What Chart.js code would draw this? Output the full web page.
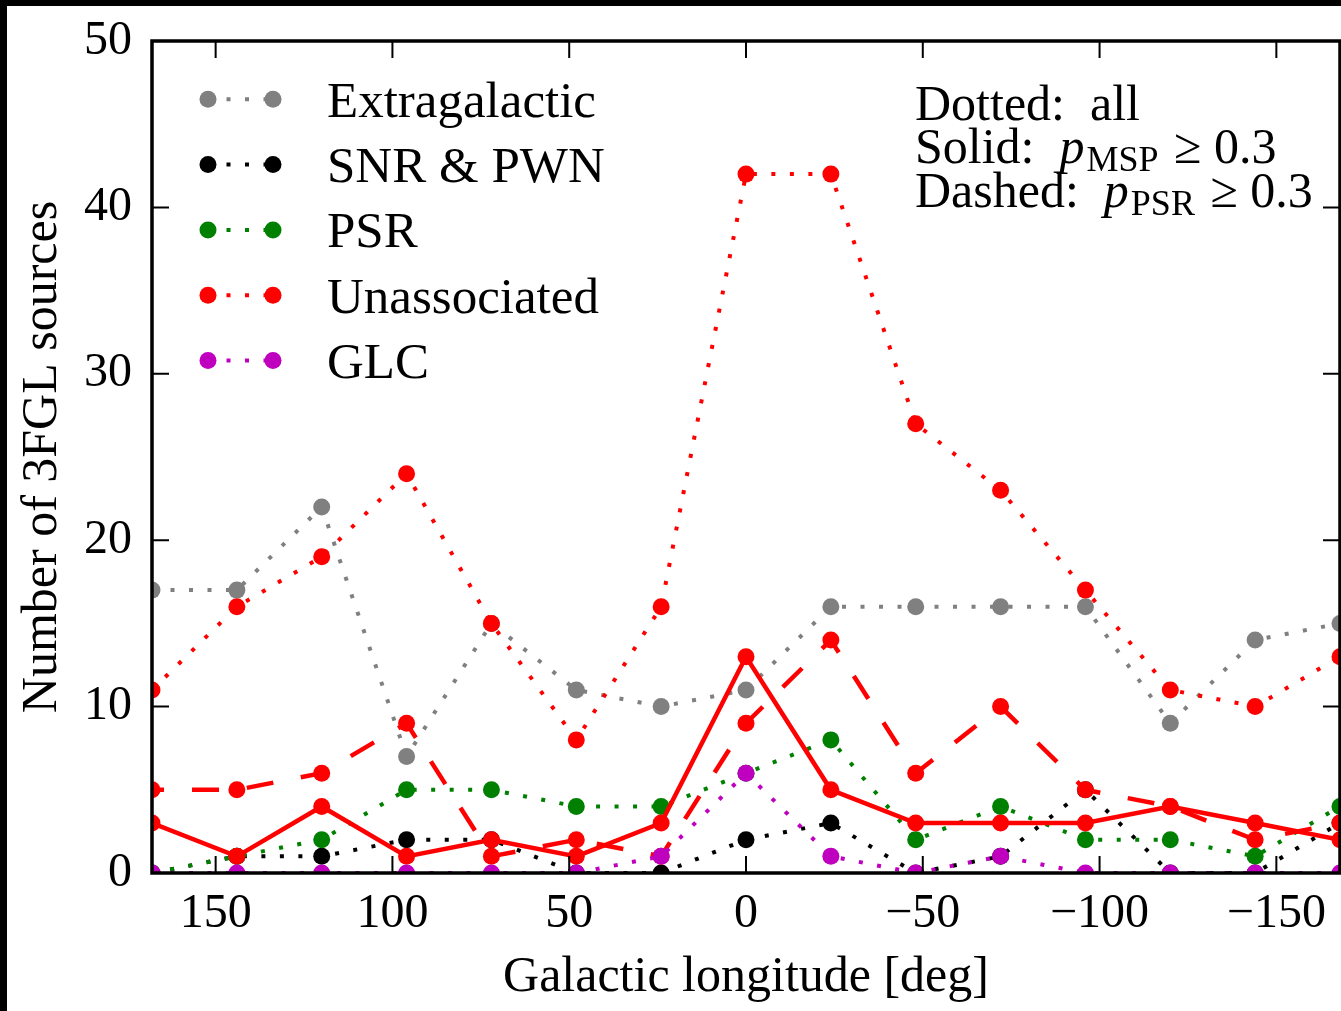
<!DOCTYPE html>
<html><head><meta charset="utf-8">
<script src="https://cdn.jsdelivr.net/npm/chart.js@4/dist/chart.umd.min.js"></script>
<style>html,body{margin:0;padding:0;background:#fff;overflow:hidden;} canvas{display:block;position:absolute;left:0;top:0;}</style>
</head><body>
<canvas id="c" width="1341" height="1011"></canvas>
<script>
// ---- data ----
const longitudes   = [168,144,120,96,72,48,24,0,-24,-48,-72,-96,-120,-144,-168];
const extragalactic= [17,17,22,7,15,11,10,11,16,16,16,16,9,14,15];
const snrPwn       = [0,1,1,2,2,0,0,2,3,0,1,5,0,0,3];
const psr          = [0,1,2,5,5,4,4,6,8,2,4,2,2,1,4];
const unassociated = [11,16,19,24,15,8,16,42,42,27,23,17,11,10,13];
const glc          = [0,0,0,0,0,0,1,6,1,0,1,0,0,0,0];
const unassocMsp   = [3,1,4,1,2,1,3,13,5,3,3,3,4,3,2];   // solid: p_MSP >= 0.3
const unassocPsr   = [5,5,6,9,1,2,1,9,14,6,10,5,4,2,3];  // dashed: p_PSR >= 0.3
const xTicks = [150,100,50,0,-50,-100,-150];
const yTicks = [0,10,20,30,40,50];
const legendLabels = ['Extragalactic','SNR & PWN','PSR','Unassociated','GLC'];
const classColors  = ['#808080','#000000','#008000','#ff0000','#bf00bf'];
const xTitle = 'Galactic longitude [deg]';
const yTitle = 'Number of 3FGL sources';

const FONT = 'Liberation Serif';
const DOT = [4, 14.5];
const DASH = [27, 28];

function series(arr){ return longitudes.map((x,i)=>({x:x, y:arr[i]})); }
function fmt(v){ return v < 0 ? '\u2212' + Math.abs(v) : String(v); }

const specs = [
  {label:'Extragalactic', data:extragalactic, color:classColors[0], dash:DOT, w:4, order:7},
  {label:'SNR & PWN',     data:snrPwn,        color:classColors[1], dash:DOT, w:4, order:6},
  {label:'PSR',           data:psr,           color:classColors[2], dash:DOT, w:4, order:5},
  {label:'Unassociated',  data:unassociated,  color:classColors[3], dash:DOT, w:4, order:4},
  {label:'Unassociated pMSP', data:unassocMsp, color:classColors[3], dash:[], w:4.5, order:3},
  {label:'Unassociated pPSR', data:unassocPsr, color:classColors[3], dash:DASH, w:4.5, order:2, off:15},
  {label:'GLC',           data:glc,           color:classColors[4], dash:DOT, w:4, order:1}
];

const datasets = specs.map(s => ({
  label: s.label, data: series(s.data),
  borderColor: s.color, backgroundColor: s.color,
  pointBackgroundColor: s.color, pointBorderColor: s.color,
  pointBorderWidth: 0, pointRadius: 8.5, pointHoverRadius: 8.5,
  borderWidth: s.w, borderDash: s.dash, borderDashOffset: s.off || 0,
  borderCapStyle: 'butt', borderJoinStyle: 'miter',
  tension: 0, fill: false, clip: 0, order: s.order
}));

const bgPlugin = {
  id: 'bg',
  beforeDraw(chart){
    const c = chart.ctx;
    c.save();
    c.fillStyle = '#fff'; c.fillRect(0,0,chart.width,chart.height);
    c.fillStyle = '#000'; c.fillRect(0,0,7,chart.height); c.fillRect(0,0,chart.width,6);
    c.restore();
  }
};

const framePlugin = {
  id: 'frame',
  afterDatasetsDraw(chart){
    const c = chart.ctx, a = chart.chartArea;
    const xs = chart.scales.x, ys = chart.scales.y;
    c.save();
    c.strokeStyle = '#000';
    c.lineWidth = 2;
    const TL = 17;
    xs.ticks.forEach(t => {
      const p = xs.getPixelForValue(t.value);
      c.beginPath();
      c.moveTo(p, a.bottom); c.lineTo(p, a.bottom - TL);
      c.moveTo(p, a.top); c.lineTo(p, a.top + TL);
      c.stroke();
    });
    ys.ticks.forEach(t => {
      const p = ys.getPixelForValue(t.value);
      c.beginPath();
      c.moveTo(a.left, p); c.lineTo(a.left + TL, p);
      c.moveTo(a.right, p); c.lineTo(a.right - TL, p);
      c.stroke();
    });
    c.lineWidth = 3.5;
    c.strokeRect(a.left, a.top, a.right - a.left, a.bottom - a.top);
    c.restore();
  }
};

const legendPlugin = {
  id: 'customLegend',
  afterDraw(chart){
    const c = chart.ctx;
    c.save();
    const x1 = 208, x2 = 273, tx = 327, y0 = 99.3, dy = 65.3;
    legendLabels.forEach((lab, i) => {
      const y = y0 + i*dy, col = classColors[i];
      c.strokeStyle = col; c.lineWidth = 4; c.setLineDash(DOT); c.lineCap = 'butt';
      c.beginPath(); c.moveTo(x1, y); c.lineTo(x2, y); c.stroke();
      c.setLineDash([]);
      c.fillStyle = col;
      [x1, x2].forEach(x => { c.beginPath(); c.arc(x, y, 8.5, 0, Math.PI*2); c.fill(); });
      c.fillStyle = '#000';
      c.font = '51px "' + FONT + '"';
      c.textBaseline = 'alphabetic'; c.textAlign = 'left';
      c.fillText(lab, tx, y + 17.5);
    });
    // annotation block
    const ax = 915;
    const rows = [
      {y:120, parts:[{t:'Dotted:  all'}]},
      {y:163, parts:[{t:'Solid:  '},{t:'p', it:true},{t:'MSP', sub:true},{t:' \u2265 0.3'}]},
      {y:207, parts:[{t:'Dashed:  '},{t:'p', it:true},{t:'PSR', sub:true},{t:' \u2265 0.3'}]}
    ];
    rows.forEach(r => {
      let x = ax;
      r.parts.forEach(p => {
        if (p.sub) c.font = '36px "' + FONT + '"';
        else if (p.it) c.font = 'italic 50px "' + FONT + '"';
        else c.font = '50px "' + FONT + '"';
        c.fillText(p.t, x, r.y + (p.sub ? 8 : 0));
        x += c.measureText(p.t).width + (p.it ? 2 : 0) + (p.sub ? 3 : 0);
      });
    });
    c.restore();
  }
};

new Chart(document.getElementById('c').getContext('2d'), {
  type: 'line',
  data: { datasets: datasets },
  options: {
    responsive: false, animation: false, devicePixelRatio: 1,
    layout: { autoPadding: false, padding: { left: 0, top: 41, right: 1, bottom: 0 } },
    plugins: { legend: { display: false }, tooltip: { enabled: false } },
    scales: {
      x: {
        type: 'linear', reverse: true, min: -168, max: 168,
        afterBuildTicks: s => { s.ticks = xTicks.map(v => ({value: v})); },
        afterFit: s => { s.height = 138; s.paddingLeft = 0; s.paddingRight = 0; },
        grid: { display: false, drawTicks: false }, border: { display: false },
        ticks: { color: '#000', font: { family: FONT, size: 48 }, padding: 13,
                 maxRotation: 0, autoSkip: false, callback: v => fmt(v) },
        title: { display: true, text: xTitle, color: '#000',
                 font: { family: FONT, size: 50 }, padding: { top: 0, bottom: 3 } }
      },
      y: {
        type: 'linear', min: 0, max: 50,
        afterBuildTicks: s => { s.ticks = yTicks.map(v => ({value: v})); },
        afterFit: s => { s.width = 152; s.paddingTop = 0; s.paddingBottom = 0; },
        grid: { display: false, drawTicks: false }, border: { display: false },
        ticks: { color: '#000', font: { family: FONT, size: 48 }, padding: 20,
                 callback: v => String(v) },
        title: { display: true, text: yTitle, color: '#000',
                 font: { family: FONT, size: 50 }, padding: { top: 13, bottom: 0 } }
      }
    }
  },
  plugins: [bgPlugin, framePlugin, legendPlugin]
});
</script>
</body></html>
